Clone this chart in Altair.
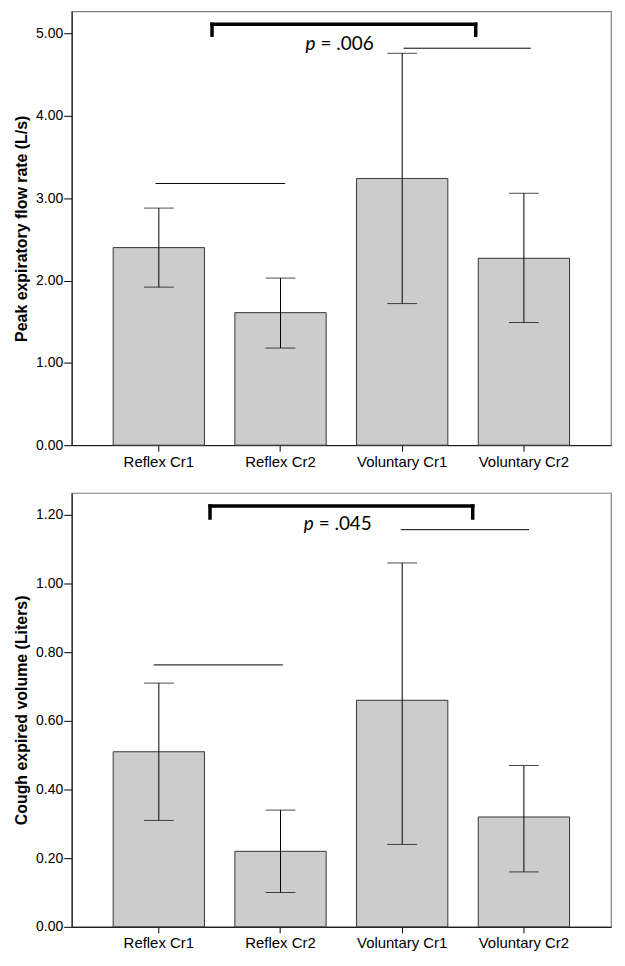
import altair as alt
import pandas as pd

categories = ["Reflex Cr1", "Reflex Cr2", "Voluntary Cr1", "Voluntary Cr2"]

# Panel 1: Peak expiratory flow rate (L/s)
pefr_mean = [2.40, 1.61, 3.24, 2.27]
pefr_lo = [1.92, 1.18, 1.72, 1.49]
pefr_hi = [2.88, 2.03, 4.76, 3.06]

# Panel 2: Cough expired volume (Liters)
cev_mean = [0.51, 0.22, 0.66, 0.32]
cev_lo = [0.31, 0.10, 0.24, 0.16]
cev_hi = [0.71, 0.34, 1.06, 0.47]

pefr_ticks = [0, 1, 2, 3, 4, 5]
cev_ticks = [0, 0.2, 0.4, 0.6, 0.8, 1.0, 1.2]

pefr_p = ["p", "= .006"]
cev_p = ["p", "= .045"]

# annotation levels (data units)
pefr_ann = {"bracket_top": 5.112, "bracket_bot": 4.98, "line1": 3.179, "line2": 4.822, "text": 4.87}
cev_ann = {"bracket_top": 1.226, "bracket_bot": 1.191, "line1": 0.763, "line2": 1.157, "text": 1.174}

W, H = 542, 436
FONT = "Liberation Sans"


def panel(means, los, his, title, ymax, yticks, ann, ptext, bp):
    df = pd.DataFrame({"cat": categories, "mean": means, "lo": los, "hi": his})
    xscale = alt.Scale(domain=categories, paddingInner=0.25, paddingOuter=0.341)
    yscale = alt.Scale(domain=[0, ymax], nice=False, zero=True)
    xaxis = alt.Axis(labelAngle=0, labelFontSize=15, labelFont=FONT, labelColor="#000",
                     tickSize=6, tickColor="#000", domainColor="#000", labelPadding=3, grid=False)
    yaxis = alt.Axis(values=yticks, format=".2f", labelFontSize=14, labelFont=FONT,
                     labelColor="#000", tickSize=8, tickColor="#000", domainColor="#000",
                     grid=False, titleFont=FONT, titleFontSize=16, titleFontWeight="bold",
                     titleColor="#000", titlePadding=6, labelPadding=1)

    def X(field="cat", pos=0.5):
        return alt.X(f"{field}:N", title=None, scale=xscale, axis=xaxis, bandPosition=pos)

    def Y(field):
        return alt.Y(f"{field}:Q", title=title, scale=yscale, axis=yaxis)

    base = alt.Chart(df)
    bars = base.mark_bar(fill="#cccccc", stroke="#333333", strokeWidth=1).encode(
        x=alt.X("cat:N", title=None, scale=xscale, axis=xaxis), y=Y("mean"))
    err = base.mark_rule(color="#000", strokeWidth=1).encode(
        x=X(), y=Y("lo"), y2="hi:Q")
    cap_lo = base.mark_tick(color="#000", size=30, thickness=1).encode(x=X(), y=Y("lo"))
    cap_hi = base.mark_tick(color="#000", size=30, thickness=1).encode(x=X(), y=Y("hi"))

    def hline(c1, p1, c2, p2, yv, sw, o1=0, o2=0):
        d = pd.DataFrame({"cat": [c1], "cat2": [c2], "v": [yv]})
        return alt.Chart(d).mark_rule(color="#000", strokeWidth=sw, strokeCap="square",
                                      xOffset=o1, x2Offset=o2).encode(
            x=X("cat", p1), x2=alt.X2("cat2:N", bandPosition=p2), y=Y("v"))

    def vline(c, p, y1, y2, sw, o=0):
        d = pd.DataFrame({"cat": [c], "v": [y1], "v2": [y2]})
        return alt.Chart(d).mark_rule(color="#000", strokeWidth=sw, strokeCap="square",
                                      xOffset=o).encode(
            x=X("cat", p), y=Y("v"), y2="v2:Q")

    layers = [bars, err, cap_lo, cap_hi]
    layers.append(hline("Reflex Cr1", 1, "Voluntary Cr1", 1, ann["bracket_top"], 3.5,
                        bp["o1"], bp["o2"]))
    layers.append(vline("Reflex Cr1", 1, ann["bracket_bot"], ann["bracket_top"], 3.5, bp["o1"]))
    layers.append(vline("Voluntary Cr1", 1, ann["bracket_bot"], ann["bracket_top"], 3.5, bp["o2"]))
    layers.append(hline("Reflex Cr1", bp["l1a"], "Reflex Cr2", bp["l1b"], ann["line1"], 1))
    layers.append(hline("Voluntary Cr1", bp["l2a"], "Voluntary Cr2", bp["l2b"], ann["line2"], 1))

    td = pd.DataFrame({"cat": ["Reflex Cr2"], "v": [ann["text"]], "t1": [ptext[0]], "t2": [ptext[1]]})
    t1 = alt.Chart(td).mark_text(font="Lato", fontSize=19, fontStyle="italic", align="right",
                                 baseline="middle", color="#000", dx=-2).encode(
        x=X("cat", bp["t"]), y=Y("v"), text="t1:N")
    t2 = alt.Chart(td).mark_text(font="Lato", fontSize=19, align="left",
                                 baseline="middle", color="#000", dx=3).encode(
        x=X("cat", bp["t"]), y=Y("v"), text="t2:N")
    layers += [t1, t2]
    return alt.layer(*layers).properties(width=W, height=H)


top = panel(pefr_mean, pefr_lo, pefr_hi, "Peak expiratory flow rate (L/s)", 5.27, pefr_ticks,
            pefr_ann, pefr_p,
            {"o1": 7.6, "o2": 28, "l1a": 0.47, "l1b": 0.545, "l2a": 0.52, "l2b": 0.57, "t": 0.905})
bottom = panel(cev_mean, cev_lo, cev_hi, "Cough expired volume (Liters)", 1.264, cev_ticks,
               cev_ann, cev_p,
               {"o1": 5.6, "o2": 25, "l1a": 0.45, "l1b": 0.52, "l2a": 0.49, "l2b": 0.55, "t": 0.885})

chart = alt.vconcat(top, bottom, spacing=22).properties(
    padding={"left": 5, "top": 0, "right": 5, "bottom": 5}
).configure_view(stroke="#808080", strokeWidth=1.2)

chart.save("out.html", embed_options={"renderer": "svg", "actions": False})
